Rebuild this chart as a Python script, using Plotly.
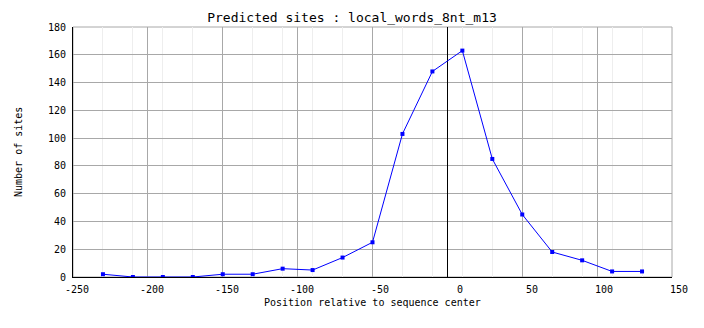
import plotly.graph_objects as go

# Data
positions = [-230, -210, -190, -170, -150, -130, -110, -90, -70, -50,
             -30, -10, 10, 30, 50, 70, 90, 110, 130]
sites = [2, 0, 0, 0, 2, 2, 6, 5, 14, 25,
         103, 148, 163, 85, 45, 18, 12, 4, 4]

x_ticks = [-250, -200, -150, -100, -50, 0, 50, 100, 150]
y_ticks = [0, 20, 40, 60, 80, 100, 120, 140, 160, 180]

title_text = "Predicted sites : local_words_8nt_m13"
x_title = "Position relative to sequence center"
y_title = "Number of sites"

MONO = "DejaVu Sans Mono"
GRID = "#a8a8a8"
MINOR = "#eeeeee"

fig = go.Figure()
fig.add_trace(go.Scatter(
    x=positions, y=sites, mode="lines+markers",
    line=dict(color="#0000ff", width=1),
    marker=dict(symbol="square", size=4, color="#0000ff"),
    hoverinfo="x+y",
))

# gray frame (top and right sides are gray in the reference)
fig.add_shape(type="rect", xref="paper", yref="paper", x0=0, x1=1, y0=0, y1=1,
              line=dict(color=GRID, width=1), layer="below")

# x tick labels: right-aligned a little to the right of each tick
annotations = []
for v in x_ticks:
    annotations.append(dict(
        x=v, xref="x", y=0, yref="paper", text=str(v), showarrow=False,
        xanchor="right", yanchor="top", xshift=18, yshift=-5,
        font=dict(family=MONO, size=10, color="black"),
    ))
annotations.append(dict(
    x=0.5, xref="paper", y=0, yref="paper", text=x_title, showarrow=False,
    xanchor="center", yanchor="top", yshift=-18,
    font=dict(family=MONO, size=10, color="black"),
))
annotations.append(dict(
    x=0, xref="paper", y=0.5, yref="paper", text=y_title, showarrow=False,
    xanchor="center", yanchor="middle", xshift=-55, textangle=-90,
    font=dict(family=MONO, size=10, color="black"),
))

fig.update_layout(
    width=704, height=328,
    margin=dict(l=73, r=32, t=27, b=51),
    plot_bgcolor="white", paper_bgcolor="white",
    showlegend=False,
    title=dict(text=title_text, x=0.5, xref="container", xanchor="center",
               y=1 - 17 / 328, yref="container", yanchor="middle",
               font=dict(family=MONO, size=13, color="black")),
    annotations=annotations,
    xaxis=dict(
        range=[-250, 150], tickmode="array", tickvals=x_ticks,
        showticklabels=False, ticks="",
        showgrid=True, gridcolor=GRID, gridwidth=1,
        zeroline=True, zerolinecolor="black", zerolinewidth=1,
        showline=True, linecolor="black", linewidth=1,
        minor=dict(tickmode="array", tickvals=positions, showgrid=True,
                   gridcolor=MINOR, gridwidth=1, ticks=""),
        fixedrange=True,
    ),
    yaxis=dict(
        range=[0, 180], tickmode="array", tickvals=y_ticks,
        ticktext=[str(v) for v in y_ticks], ticks="",
        ticklabelstandoff=4,
        tickfont=dict(family=MONO, size=10, color="black"),
        showgrid=True, gridcolor=GRID, gridwidth=1,
        zeroline=False,
        showline=True, linecolor="black", linewidth=1,
        fixedrange=True,
    ),
)

fig.write_html("out.html")
